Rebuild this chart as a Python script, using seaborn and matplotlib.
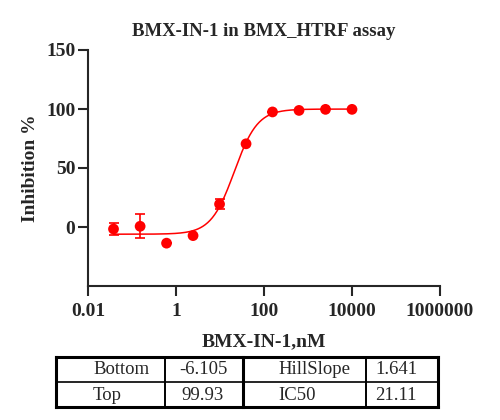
import numpy as np
import pandas as pd
import matplotlib
matplotlib.use("Agg")
import matplotlib.pyplot as plt
import seaborn as sns

# ---- data ----
conc_nM = [0.038, 0.153, 0.61, 2.44, 9.77, 39.1, 156.0, 625.0, 2500.0, 10000.0]
inhibition = [-1.7, 0.6, -13.7, -7.3, 19.4, 70.5, 97.5, 98.8, 99.7, 99.7]
err = [5.5, 10.0, 0.0, 0.0, 4.0, 0.0, 0.0, 0.0, 0.0, 0.0]

# fitted 4PL parameters (shown in table)
param_names_left = ["Bottom", "Top"]
param_vals_left = ["-6.105", "99.93"]
param_names_right = ["HillSlope", "IC50"]
param_vals_right = ["1.641", "21.11"]
bottom, top, hill, ic50 = -6.105, 99.93, 1.641, 21.11

x_ticks = [0.01, 1, 100, 10000, 1000000]
x_tick_labels = ["0.01", "1", "100", "10000", "1000000"]
y_ticks = [0, 50, 100, 150]

sns.set_style("ticks")
plt.rcParams['font.family'] = ['Liberation Serif', 'DejaVu Serif']

fig = plt.figure(figsize=(5.0, 4.2), dpi=100)
W, H = 500, 420
ax = fig.add_axes([88 / W, 1 - 286 / H, 352 / W, (286 - 50) / H])

red = "#FF0000"
df = pd.DataFrame({"conc": conc_nM, "inh": inhibition, "err": err})

# fitted curve from the 4PL parameters
xc = np.logspace(np.log10(conc_nM[0]), np.log10(conc_nM[-1]), 300)
yc = bottom + (top - bottom) / (1 + (ic50 / xc) ** hill)
sns.lineplot(x=xc, y=yc, ax=ax, color=red, linewidth=1.1)

ax.errorbar(df["conc"], df["inh"], yerr=df["err"], fmt="none", ecolor=red,
            elinewidth=1.2, capsize=3.8, capthick=1.2, zorder=3)
sns.scatterplot(data=df, x="conc", y="inh", ax=ax, color=red, s=60,
                edgecolor="none", zorder=4)

ax.set_xscale("log")
ax.set_xlim(0.01, 1000000)
ax.set_ylim(-50, 150)
ax.set_xticks(x_ticks)
ax.set_xticklabels(x_tick_labels)
ax.minorticks_off()
ax.set_yticks(y_ticks)
for s in ["top", "right"]:
    ax.spines[s].set_visible(False)
for s in ["left", "bottom"]:
    ax.spines[s].set_linewidth(1.5)
ax.tick_params(axis="both", direction="out", length=7, width=1.5,
               labelsize=14, pad=2)
ax.tick_params(axis="x", pad=5)
for lab in ax.get_xticklabels() + ax.get_yticklabels():
    lab.set_fontweight("bold")

ax.set_title("BMX-IN-1 in BMX_HTRF assay", fontsize=13.5, fontweight="bold", pad=10)
ax.set_xlabel("BMX-IN-1,nM", fontsize=14, fontweight="bold", labelpad=10)
ax.set_ylabel("Inhibition %", fontsize=14, fontweight="bold", labelpad=5)

# ---- parameter table ----
tax = fig.add_axes([0, 0, 1, 1], facecolor="none")
tax.set_xlim(0, W)
tax.set_ylim(H, 0)
tax.axis("off")
xs = [56, 165, 243, 366, 438]
ys = [356.5, 382, 407]
for i, xv in enumerate(xs):
    lw = 2.2 if i in (0, 2, 4) else 1.4
    tax.plot([xv, xv], [ys[0], ys[-1]], color="black", lw=lw, solid_capstyle="projecting")
for i, yv in enumerate(ys):
    lw = 2.2 if i in (0, 2) else 1.2
    tax.plot([xs[0], xs[-1]], [yv, yv], color="black", lw=lw, solid_capstyle="projecting")
row_c = [369.5, 395]
for r in range(2):
    tax.text(93, row_c[r], param_names_left[r], fontsize=13.5, ha="left", va="center")
    tax.text(203, row_c[r], param_vals_left[r], fontsize=13.5, ha="center", va="center")
    tax.text(278, row_c[r], param_names_right[r], fontsize=13.5, ha="left", va="center")
    tax.text(396, row_c[r], param_vals_right[r], fontsize=13.5, ha="center", va="center")

fig.savefig("out.png", dpi=100)
